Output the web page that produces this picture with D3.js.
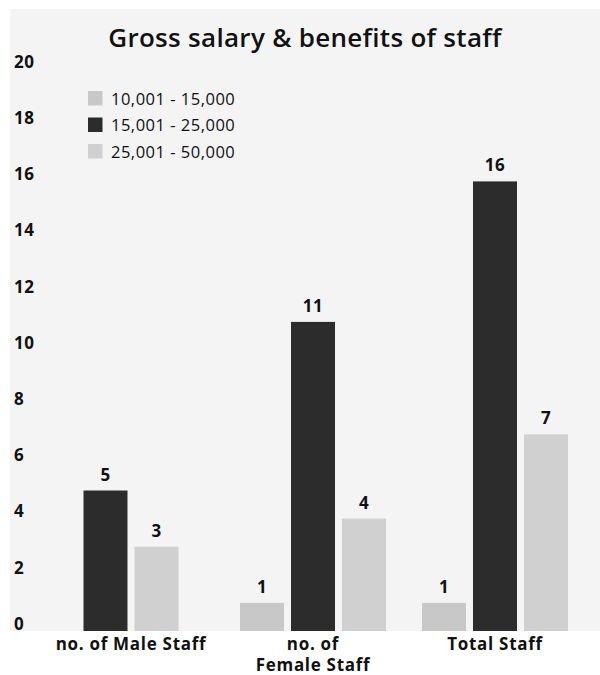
<!DOCTYPE html>
<html>
<head>
<meta charset="utf-8">
<script src="https://cdn.jsdelivr.net/npm/d3@7"></script>
<style>
  body { margin: 0; background: #fff; }
  text { font-family: "Open Sans", sans-serif; fill: #111; }
</style>
</head>
<body>
<svg id="canvas"></svg>
<script>
// data
let categories = [['no. of Male Staff'], ['no. of', 'Female Staff'], ['Total Staff']]
let seriesNames = ['10,001 - 15,000', '15,001 - 25,000', '25,001 - 50,000']
let lowBand = [null, 1, 1]
let midBand = [5, 11, 16]
let highBand = [3, 4, 7]
let yTicks = [0, 2, 4, 6, 8, 10, 12, 14, 16, 18, 20]

let colors = ['#c8c8c8', '#2c2c2c', '#d0d0d0']

let width = 600
let height = 675
let baseY = 631

let canvas = d3.select('#canvas')
  .attr('width', width)
  .attr('height', height)

// grey panel
canvas.append('rect')
  .attr('x', 10).attr('y', 9)
  .attr('width', width - 10).attr('height', baseY - 9)
  .attr('fill', '#f4f4f4')

let seriesData = [lowBand, midBand, highBand]

let xScale = d3.scaleBand()
  .domain(d3.range(categories.length))
  .range([40, 586])

let yScale = d3.scaleLinear()
  .domain([0, 20])
  .range([baseY, 69])

// title
canvas.append('text')
  .attr('x', 305).attr('y', 47)
  .attr('text-anchor', 'middle')
  .style('font-size', '26px')
  .style('font-weight', 600)
  .style('letter-spacing', '0.3px')
  .text('Gross salary & benefits of staff')

// y axis (labels only)
let yAxis = d3.axisRight(yScale)
  .tickValues(yTicks)
  .tickSize(0)
  .tickPadding(0)

let yG = canvas.append('g')
  .attr('transform', 'translate(14, 0)')
  .call(yAxis)
yG.select('.domain').remove()
yG.selectAll('text')
  .attr('dy', '-0.1em')
  .style('font-family', '"Open Sans", sans-serif')
  .style('font-size', '17px')
  .style('font-weight', 700)
  .style('letter-spacing', '0.5px')
  .attr('fill', '#111')

// bars
let barW = 44
let gap = 7
categories.forEach((cat, ci) => {
  let present = seriesData.map((s, si) => si).filter(si => seriesData[si][ci] != null)
  let center = xScale(ci) + xScale.bandwidth() / 2
  let total = present.length * barW + (present.length - 1) * gap
  let inner = d3.scaleBand()
    .domain(present)
    .range([center - total / 2, center + total / 2])
    .paddingInner(gap / (barW + gap))
    .paddingOuter(0)
  let g = canvas.append('g')
  g.selectAll('rect')
    .data(present)
    .enter()
    .append('rect')
    .attr('x', si => inner(si))
    .attr('y', si => yScale(seriesData[si][ci]))
    .attr('width', inner.bandwidth())
    .attr('height', si => baseY - yScale(seriesData[si][ci]))
    .attr('fill', si => colors[si])
  g.selectAll('text')
    .data(present)
    .enter()
    .append('text')
    .attr('x', si => inner(si) + inner.bandwidth() / 2)
    .attr('y', si => yScale(seriesData[si][ci]) - 10)
    .attr('text-anchor', 'middle')
    .style('font-size', '17px')
    .style('font-weight', 700)
    .style('letter-spacing', '0.5px')
    .text(si => seriesData[si][ci])

  // category label
  let lab = canvas.append('text')
    .attr('text-anchor', 'middle')
    .style('font-size', '17px')
    .style('font-weight', 700)
    .style('letter-spacing', '0.7px')
  cat.forEach((line, li) => {
    lab.append('tspan')
      .attr('x', center)
      .attr('y', 650 + li * 21)
      .text(line)
  })
})

// legend
let legend = canvas.append('g')
seriesNames.forEach((name, i) => {
  legend.append('rect')
    .attr('x', 88).attr('y', 91 + i * 26.5)
    .attr('width', 14.5).attr('height', 14.5)
    .attr('fill', colors[i])
  legend.append('text')
    .attr('x', 111).attr('y', 104.5 + i * 26.5)
    .style('font-size', '16.5px')
    .style('letter-spacing', '0.5px')
    .text(name)
})
</script>
</body>
</html>
